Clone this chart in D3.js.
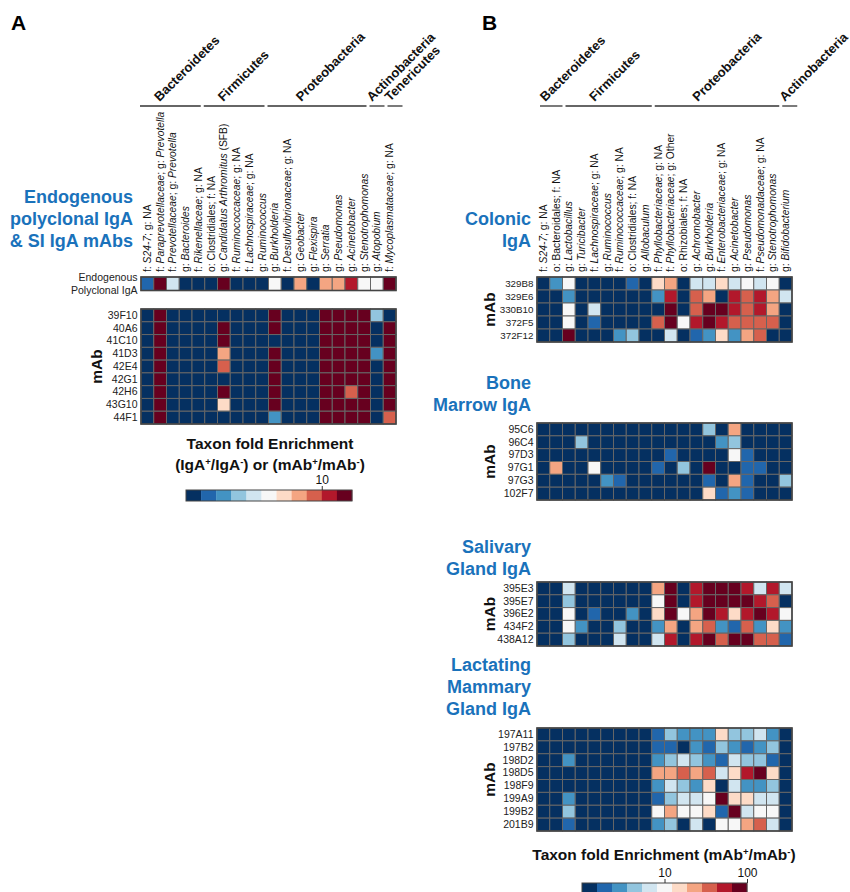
<!DOCTYPE html>
<html>
<head>
<meta charset="utf-8">
<script src="https://cdn.jsdelivr.net/npm/d3@7"></script>
<style>
  body { margin: 0; background: #fff; }
  text { font-family: "Liberation Sans", Arial, sans-serif; }
</style>
</head>
<body>
<script>
// colour bins of the enrichment scale, 0 = lowest (dark blue) ... 10 = highest (dark red)
const binColors = ['#053061', '#2166ac', '#4393c3', '#92c5de', '#d1e5f0', '#f7f7f7',
  '#fddbc7', '#f4a582', '#d6604d', '#b2182b', '#67001f']

// ---- panel A ----
// *...* = italic part of the label
const taxaA = [
  'f: *S24-7*; g: NA', 'f: *Paraprevotellaceae*; g: *Prevotella*', 'f: *Prevotellaceae*; g: *Prevotella*',
  'g: *Bacteroides*', 'f: *Rikenellaceae*; g: NA', 'o: Clostridiales; f: NA',
  'g: *Candidatus Arthromitus* (SFB)', 'f: *Ruminococcaceae*; g: NA', 'f: *Lachnospiraceae*; g: NA',
  'g: *Ruminococcus*', 'g: *Burkholderia*', 'f: *Desulfovibrionaceae*; g: NA', 'g: *Geobacter*',
  'g: *Flexispira*', 'g: *Serratia*', 'g: *Pseudomonas*', 'g: *Acinetobacter*',
  'g: *Stenotrophomonas*', 'g: *Atopobium*', 'f: *Mycoplasmataceae*; g: NA'
]
const phylaA = ['Bacteroidetes', 'Firmicutes', 'Proteobacteria', 'Actinobacteria', 'Tenericutes']
const phylaSizesA = [5, 5, 8, 1, 1]

const endoRows = ['Endogenous Polyclonal IgA']
const endoLevels = [[1, 10, 4, 0, 0, 0, 10, 0, 0, 0, 5, 0, 7, 0, 7, 7, 9, 5, 5, 10]]

const mAbsA = ['39F10', '40A6', '41C10', '41D3', '42E4', '42G1', '42H6', '43G10', '44F1']
const levelsA = [
  [0, 10, 0, 0, 0, 0, 0, 0, 0, 0, 10, 0, 0, 0, 10, 10, 10, 10, 3, 0],
  [0, 10, 0, 0, 0, 0, 10, 0, 0, 0, 10, 0, 0, 0, 10, 10, 10, 10, 0, 10],
  [0, 10, 0, 0, 0, 0, 10, 0, 0, 0, 0, 0, 0, 0, 10, 10, 10, 10, 0, 10],
  [0, 10, 0, 0, 0, 0, 7, 0, 0, 0, 10, 0, 0, 0, 10, 10, 10, 10, 2, 10],
  [0, 10, 0, 0, 0, 0, 8, 0, 0, 0, 10, 0, 0, 0, 10, 10, 10, 10, 0, 10],
  [0, 10, 0, 0, 0, 0, 0, 0, 0, 0, 10, 0, 0, 0, 10, 10, 10, 10, 0, 10],
  [0, 10, 0, 0, 0, 0, 10, 0, 0, 0, 10, 0, 0, 0, 10, 10, 8, 10, 0, 10],
  [0, 10, 0, 0, 0, 0, 6, 0, 0, 0, 10, 0, 0, 0, 10, 10, 10, 10, 0, 10],
  [0, 10, 0, 0, 0, 0, 0, 0, 0, 0, 2, 0, 0, 0, 10, 10, 10, 10, 0, 8]
]
const legendDomainA = [1, 16.7]
const legendTicksA = [10]

// ---- panel B ----
const taxaB = [
  'f: *S24-7*; g: NA', 'o: Bacteroidales; f: NA', 'g: *Lactobacillus*', 'g: *Turicibacter*',
  'f: *Lachnospiraceae*; g: NA', 'g: *Ruminococcus*', 'f: *Ruminococcaceae*; g: NA',
  'o: Clostridiales; f: NA', 'g: *Allobaculum*', 'f: *Phyllobacteriaceae*; g: NA',
  'f: *Phyllobacteriaceae*; g: Other', 'o: Rhizobiales; f: NA', 'g: *Achromobacter*',
  'g: *Burkholderia*', 'f: *Enterobacteriaceae*; g: NA', 'g: *Acinetobacter*', 'g: *Pseudomonas*',
  'f: *Pseudomonadaceae*; g: NA', 'g: *Stenotrophomonas*', 'g: *Bifidobacterium*'
]
const phylaB = ['Bacteroidetes', 'Firmicutes', 'Proteobacteria', 'Actinobacteria']
const phylaSizesB = [2, 7, 10, 1]

const colonicRows = ['329B8', '329E6', '330B10', '372F5', '372F12']
const colonicLevels = [
  [0, 2, 5, 0, 0, 0, 0, 1, 0, 6, 7, 0, 4, 4, 6, 4, 5, 4, 5, 0],
  [0, 0, 2, 0, 0, 0, 0, 0, 0, 2, 9, 0, 8, 7, 0, 9, 8, 9, 7, 4],
  [0, 0, 5, 0, 4, 0, 0, 0, 0, 0, 10, 0, 8, 10, 10, 9, 8, 9, 7, 0],
  [0, 0, 5, 0, 1, 0, 0, 0, 0, 8, 10, 5, 9, 10, 9, 8, 8, 8, 8, 0],
  [0, 0, 10, 0, 0, 0, 2, 3, 0, 0, 4, 0, 1, 2, 6, 2, 7, 8, 0, 0]
]

const marrowRows = ['95C6', '96C4', '97D3', '97G1', '97G3', '102F7']
const marrowLevels = [
  [0, 0, 0, 0, 0, 0, 0, 0, 0, 0, 0, 0, 0, 3, 0, 7, 0, 0, 0, 0],
  [0, 0, 0, 3, 0, 0, 0, 0, 0, 0, 0, 0, 0, 0, 2, 3, 0, 0, 0, 0],
  [0, 0, 0, 0, 0, 0, 0, 0, 0, 0, 1, 0, 0, 0, 0, 5, 1, 0, 0, 0],
  [0, 7, 0, 0, 5, 0, 0, 0, 0, 1, 0, 3, 0, 10, 0, 0, 1, 1, 0, 0],
  [0, 0, 0, 0, 0, 2, 1, 0, 0, 0, 0, 0, 0, 1, 0, 7, 1, 0, 0, 3],
  [0, 0, 0, 0, 0, 0, 0, 0, 0, 0, 0, 0, 0, 6, 1, 2, 1, 0, 0, 0]
]

const salivaryRows = ['395E3', '395E7', '396E2', '434F2', '438A12']
const salivaryLevels = [
  [0, 0, 4, 0, 0, 0, 0, 0, 0, 7, 10, 0, 9, 10, 10, 10, 9, 4, 9, 4],
  [0, 0, 3, 0, 0, 0, 0, 0, 0, 5, 10, 0, 9, 10, 10, 10, 10, 9, 8, 0],
  [0, 0, 5, 0, 1, 0, 0, 2, 0, 6, 10, 5, 7, 10, 9, 6, 9, 10, 9, 5],
  [0, 0, 5, 2, 0, 0, 3, 0, 0, 2, 7, 0, 7, 8, 2, 1, 8, 2, 6, 2],
  [0, 0, 3, 0, 0, 0, 4, 0, 0, 4, 9, 0, 9, 10, 8, 10, 10, 8, 8, 1]
]

const mammaryRows = ['197A11', '197B2', '198D2', '198D5', '198F9', '199A9', '199B2', '201B9']
const mammaryLevels = [
  [0, 0, 0, 0, 0, 0, 0, 0, 0, 1, 3, 2, 2, 2, 6, 3, 3, 4, 2, 0],
  [0, 0, 0, 0, 0, 0, 0, 0, 0, 1, 1, 0, 2, 1, 3, 2, 1, 2, 3, 0],
  [0, 0, 2, 0, 0, 0, 0, 0, 0, 2, 3, 4, 3, 2, 1, 4, 3, 3, 1, 0],
  [0, 0, 0, 0, 0, 0, 0, 0, 0, 7, 7, 8, 7, 8, 4, 6, 9, 10, 6, 0],
  [0, 0, 0, 0, 0, 0, 0, 0, 0, 2, 4, 3, 2, 6, 0, 4, 2, 2, 3, 0],
  [0, 0, 2, 0, 0, 0, 0, 0, 0, 1, 3, 4, 4, 5, 10, 6, 6, 4, 4, 0],
  [0, 0, 3, 0, 0, 0, 0, 0, 0, 5, 7, 5, 5, 6, 1, 10, 4, 5, 5, 0],
  [0, 0, 1, 0, 0, 0, 0, 0, 0, 2, 3, 0, 4, 0, 5, 5, 7, 8, 4, 0]
]
const legendDomainB = [1, 100]
const legendTicksB = [10, 100]

const blue = '#1a72bb'

const svg = d3.select('body')
  .append('svg')
  .attr('width', 850)
  .attr('height', 892)

const color = d3.scaleOrdinal(d3.range(11), binColors)

// writes a label with *italic* parts as tspans
const richLabel = (sel, str) => {
  str.split('*').forEach((part, i) => {
    if (part) sel.append('tspan').attr('font-style', i % 2 ? 'italic' : 'normal').text(part)
  })
}

const drawTaxa = (taxa, x) => {
  svg.append('g')
    .selectAll('text')
    .data(taxa)
    .join('text')
    .attr('transform', (d) => `translate(${x(d) + x.bandwidth() / 2 + 3.6}, 272) rotate(-90)`)
    .attr('font-size', 10.3)
    .attr('fill', '#111')
    .each(function (d) { richLabel(d3.select(this), d) })
}

// phylum bars: one column width each, at least 15px, 3px apart
const drawPhyla = (phyla, sizes, x, start) => {
  let x0 = start
  phyla.forEach((p, i) => {
    const w = Math.max(15, sizes[i] * x.bandwidth() - 3)
    svg.append('line')
      .attr('x1', x0).attr('x2', x0 + w)
      .attr('y1', 106).attr('y2', 106)
      .attr('stroke', '#333')
      .attr('stroke-width', 1.3)
    svg.append('text')
      .attr('transform', `translate(${x0 + 0.37 * w - 3}, 102) rotate(-45)`)
      .attr('font-size', 13)
      .attr('font-weight', 'bold')
      .attr('fill', '#111')
      .text(p)
    x0 += w + 3
  })
}

const heatmap = (rows, levels, taxa, x, top, bottom, opts = {}) => {
  const { mab = true, labelSize = 10.5, mabOffset = 39 } = opts
  const y = d3.scaleBand().domain(rows).range([top, bottom])
  const [left, right] = x.range()
  const g = svg.append('g')
  const cells = levels.flatMap((row, i) => row.map((v, j) => ({ row: rows[i], taxon: taxa[j], v })))

  g.selectAll('rect.cell')
    .data(cells)
    .join('rect')
    .attr('class', 'cell')
    .attr('x', (d) => x(d.taxon))
    .attr('y', (d) => y(d.row))
    .attr('width', x.bandwidth())
    .attr('height', y.bandwidth())
    .attr('fill', (d) => color(d.v))
    .attr('stroke', '#666')
    .attr('stroke-width', 1)

  g.append('rect')
    .attr('x', left).attr('y', top)
    .attr('width', right - left).attr('height', bottom - top)
    .attr('fill', 'none')
    .attr('stroke', '#444')
    .attr('stroke-width', 1.6)

  const axis = g.append('g')
    .attr('transform', `translate(${left}, 0)`)
    .call(d3.axisLeft(y).tickSize(0).tickPadding(3.5))
  axis.select('.domain').remove()
  axis.selectAll('text')
    .attr('font-size', labelSize)
    .attr('fill', '#222')

  if (mab) {
    svg.append('text')
      .attr('transform', `translate(${left - mabOffset}, ${(top + bottom) / 2}) rotate(-90)`)
      .attr('text-anchor', 'middle')
      .attr('font-size', 15.5)
      .attr('font-weight', 'bold')
      .attr('fill', '#111')
      .text('mAb')
  }
  return axis
}

const blueTitle = (lines, xr, y0) => {
  svg.append('text')
    .attr('text-anchor', 'end')
    .attr('font-size', 18)
    .attr('font-weight', 'bold')
    .attr('fill', blue)
    .selectAll('tspan')
    .data(lines)
    .join('tspan')
    .attr('x', xr)
    .attr('y', (d, i) => y0 + i * 22)
    .text((d) => d)
}

const legend = (domain, ticks, left, right, top, h) => {
  const band = d3.scaleBand().domain(d3.range(11)).range([left, right])
  const scale = d3.scaleLog().domain(domain).range([left, right])
  const g = svg.append('g')
  g.selectAll('rect')
    .data(d3.range(11))
    .join('rect')
    .attr('x', (d) => band(d))
    .attr('y', top)
    .attr('width', band.bandwidth() + 0.3)
    .attr('height', h)
    .attr('fill', (d) => color(d))
  g.append('rect')
    .attr('x', left).attr('y', top)
    .attr('width', right - left).attr('height', h)
    .attr('fill', 'none')
    .attr('stroke', '#444')
    .attr('stroke-width', 1)
  const ax = g.append('g')
    .attr('transform', `translate(0, ${top})`)
    .call(d3.axisTop(scale).tickValues(ticks).tickFormat(d3.format('d')).tickSize(4).tickPadding(2))
  ax.select('.domain').remove()
  ax.selectAll('line').attr('stroke', '#333')
  ax.selectAll('text').attr('font-size', 12).attr('fill', '#111')
}

// parts alternate: normal text, superscript, normal text, ...
const supText = (sel, parts) => {
  parts.forEach((p, i) => {
    const t = sel.append('tspan').text(p)
    if (i % 2) t.attr('dy', -5).attr('font-size', 9.5)
    else if (i > 0) t.attr('dy', 5)
  })
}

const boldText = (x, y) => svg.append('text')
  .attr('x', x).attr('y', y)
  .attr('text-anchor', 'middle')
  .attr('font-size', 15.5)
  .attr('font-weight', 'bold')
  .attr('fill', '#111')

// ---------- panel A ----------
svg.append('text').attr('x', 11).attr('y', 30)
  .attr('font-size', 21).attr('font-weight', 'bold').text('A')

const xA = d3.scaleBand().domain(taxaA).range([141, 396])
drawTaxa(taxaA, xA)
drawPhyla(phylaA, phylaSizesA, xA, 140)
blueTitle(['Endogenous', 'polyclonal IgA', '& SI IgA mAbs'], 133, 203)

// the endogenous row label is split over two lines
heatmap(endoRows, endoLevels, taxaA, xA, 277, 290.5, { mab: false })
  .selectAll('text')
  .text(null)
  .attr('dy', null)
  .each(function () {
    const t = d3.select(this)
    t.append('tspan').attr('x', -3.5).attr('y', -3).text('Endogenous')
    t.append('tspan').attr('x', -3.5).attr('y', 10).text('Polyclonal IgA')
  })

heatmap(mAbsA, levelsA, taxaA, xA, 309, 424)

boldText(270, 449).text('Taxon fold Enrichment')
supText(boldText(270, 470), ['(IgA', '+', '/IgA', '-', ') or (mAb', '+', '/mAb', '-', ')'])
legend(legendDomainA, legendTicksA, 186, 352, 490, 11)

// ---------- panel B ----------
svg.append('text').attr('x', 482).attr('y', 30)
  .attr('font-size', 21).attr('font-weight', 'bold').text('B')

const xB = d3.scaleBand().domain(taxaB).range([537, 792])
drawTaxa(taxaB, xB)
drawPhyla(phylaB, phylaSizesB, xB, 540)

blueTitle(['Colonic', 'IgA'], 531, 225)
heatmap(colonicRows, colonicLevels, taxaB, xB, 277, 342, { labelSize: 9.8, mabOffset: 42 })

blueTitle(['Bone', 'Marrow IgA'], 531, 389)
heatmap(marrowRows, marrowLevels, taxaB, xB, 423, 500, { mabOffset: 42 })

blueTitle(['Salivary', 'Gland IgA'], 531, 553)
heatmap(salivaryRows, salivaryLevels, taxaB, xB, 582, 646, { mabOffset: 42 })

blueTitle(['Lactating', 'Mammary', 'Gland IgA'], 531, 671)
heatmap(mammaryRows, mammaryLevels, taxaB, xB, 728, 831, { mabOffset: 42 })

supText(boldText(664, 860), ['Taxon fold Enrichment (mAb', '+', '/mAb', '-', ')'])
legend(legendDomainB, legendTicksB, 582, 747, 883, 12)
</script>
</body>
</html>
